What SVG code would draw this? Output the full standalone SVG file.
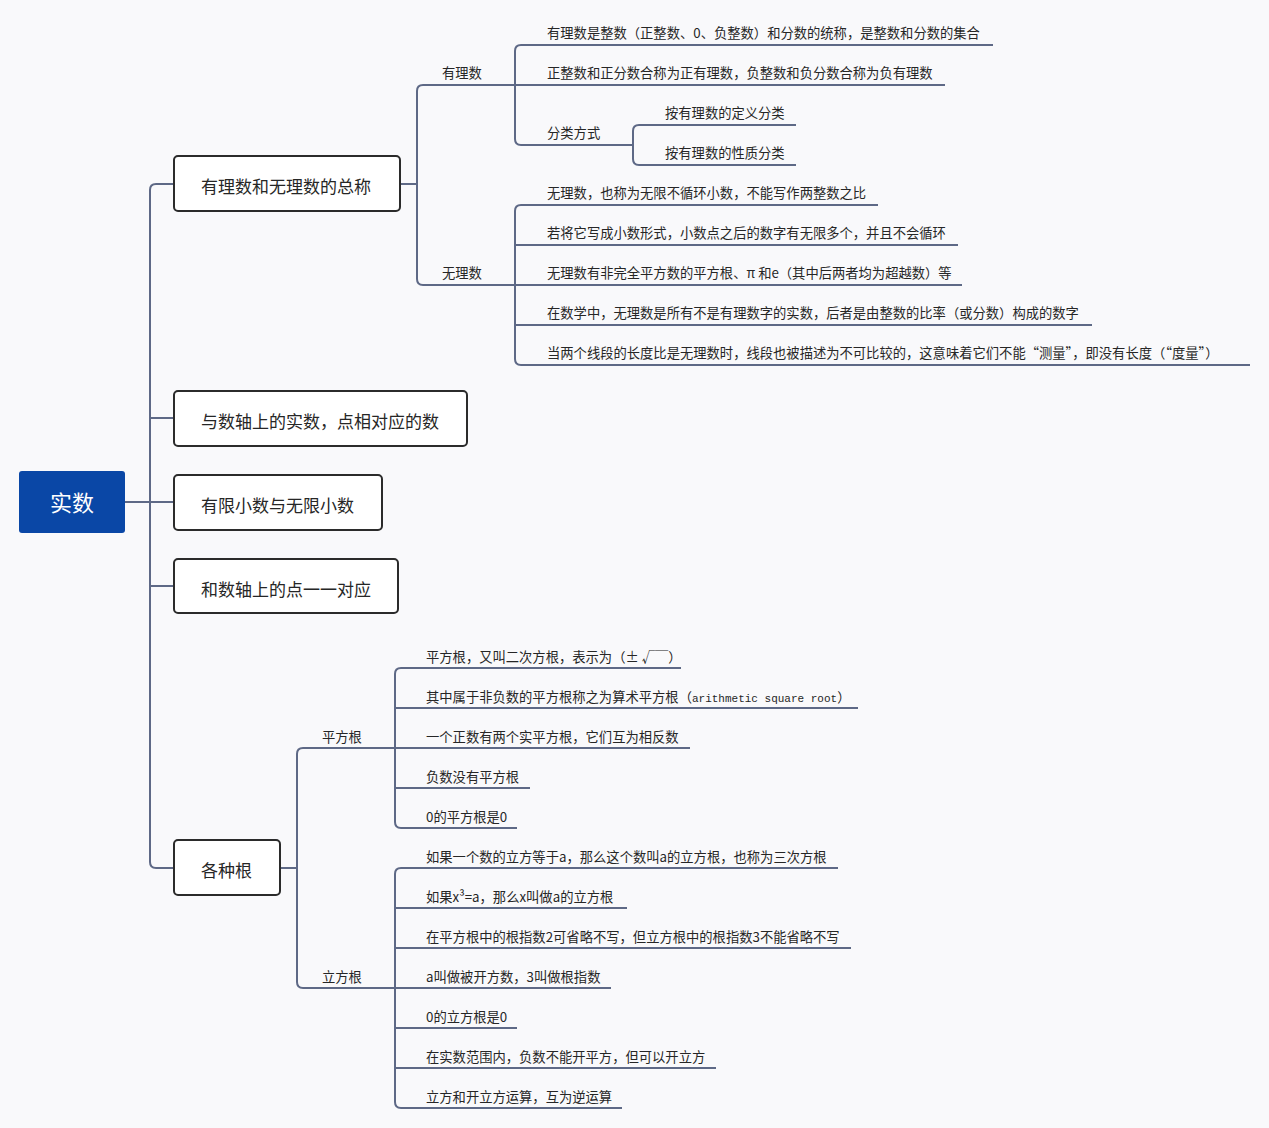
<svg xmlns="http://www.w3.org/2000/svg" width="1269" height="1128" viewBox="0 0 1269 1128">
<style>
text{font-family:"Noto Sans CJK SC","Noto Sans",sans-serif;fill:#262626}
.t{font-size:13.3px}
.b{font-size:17px}
.box{fill:#ffffff;stroke:#2b2b2b;stroke-width:2}
.c{fill:none;stroke:#5e6986;stroke-width:2;stroke-linecap:butt}
.m{font-family:"Liberation Mono",monospace;font-size:11px}
</style>
<rect width="1269" height="1128" fill="#f9f9fb"/>
<g id="connectors">
<path class="c" d="M125,502 H174"/>
<path class="c" d="M174,184 H156 Q150,184 150,190 V862 Q150,868 156,868 H174"/>
<path class="c" d="M150,418 H174 M150,586 H174"/>
<path class="c" d="M400,184 H417"/>
<path class="c" d="M515,85 H423 Q417,85 417,91 V279 Q417,285 423,285 H515"/>
<path class="c" d="M993,45 H521 Q515,45 515,51 V139 Q515,145 521,145 H633"/>
<path class="c" d="M515,85 H945"/>
<path class="c" d="M796,125 H639 Q633,125 633,131 V159 Q633,165 639,165 H796"/>
<path class="c" d="M878,205 H521 Q515,205 515,211 V359 Q515,365 521,365 H1250"/>
<path class="c" d="M515,245 H958 M515,285 H962 M515,325 H1092"/>
<path class="c" d="M280,868 H297"/>
<path class="c" d="M395,748 H303 Q297,748 297,754 V982 Q297,988 303,988 H395"/>
<path class="c" d="M681,668 H401 Q395,668 395,674 V822 Q395,828 401,828 H517"/>
<path class="c" d="M395,708 H858 M395,748 H690 M395,788 H530"/>
<path class="c" d="M838,868 H401 Q395,868 395,874 V1102 Q395,1108 401,1108 H622"/>
<path class="c" d="M395,908 H627 M395,948 H851 M395,988 H611 M395,1028 H517 M395,1068 H716"/>
</g>
<g id="root">
<rect x="19" y="471" width="106" height="62" rx="3" fill="#0a47a6"/>
<text x="72" y="511" text-anchor="middle" style="font-size:22px;fill:#ffffff">实数</text>
</g>
<g id="n1">
<rect class="box" x="174" y="156" width="226" height="55" rx="4"/>
<text class="b" x="201" y="193">有理数和无理数的总称</text>
</g>
<g id="n2">
<rect class="box" x="174" y="391" width="293" height="55" rx="4"/>
<text class="b" x="201" y="428">与数轴上的实数，点相对应的数</text>
</g>
<g id="n3">
<rect class="box" x="174" y="475" width="208" height="55" rx="4"/>
<text class="b" x="201" y="512">有限小数与无限小数</text>
</g>
<g id="n4">
<rect class="box" x="174" y="559" width="224" height="54" rx="4"/>
<text class="b" x="201" y="596">和数轴上的点一一对应</text>
</g>
<g id="n5">
<rect class="box" x="174" y="840" width="106" height="55" rx="4"/>
<text class="b" x="201" y="877">各种根</text>
</g>
<g id="rational"><text class="t" x="442" y="78">有理数</text></g>
<g id="r1"><text class="t" x="547" y="38">有理数是整数（正整数、0、负整数）和分数的统称，是整数和分数的集合</text></g>
<g id="r2"><text class="t" x="547" y="78">正整数和正分数合称为正有理数，负整数和负分数合称为负有理数</text></g>
<g id="r3"><text class="t" x="547" y="138">分类方式</text></g>
<g id="r3a"><text class="t" x="665" y="118">按有理数的定义分类</text></g>
<g id="r3b"><text class="t" x="665" y="158">按有理数的性质分类</text></g>
<g id="irrational"><text class="t" x="442" y="278">无理数</text></g>
<g id="i1"><text class="t" x="547" y="198">无理数，也称为无限不循环小数，不能写作两整数之比</text></g>
<g id="i2"><text class="t" x="547" y="238">若将它写成小数形式，小数点之后的数字有无限多个，并且不会循环</text></g>
<g id="i3"><text class="t" x="547" y="278">无理数有非完全平方数的平方根、π 和e（其中后两者均为超越数）等</text></g>
<g id="i4"><text class="t" x="547" y="318">在数学中，无理数是所有不是有理数字的实数，后者是由整数的比率（或分数）构成的数字</text></g>
<g id="i5"><text class="t" x="547" y="358">当两个线段的长度比是无理数时，线段也被描述为不可比较的，这意味着它们不能“测量”，即没有长度（“度量”）</text></g>
<g id="sqrt"><text class="t" x="322" y="742">平方根</text></g>
<g id="s1"><text class="t" x="426" y="662">平方根，又叫二次方根，表示为（± √￣）</text></g>
<g id="s2"><text class="t" x="426" y="702">其中属于非负数的平方根称之为算术平方根（<tspan class="m">arithmetic square root</tspan>）</text></g>
<g id="s3"><text class="t" x="426" y="742">一个正数有两个实平方根，它们互为相反数</text></g>
<g id="s4"><text class="t" x="426" y="782">负数没有平方根</text></g>
<g id="s5"><text class="t" x="426" y="822">0的平方根是0</text></g>
<g id="cbrt"><text class="t" x="322" y="982">立方根</text></g>
<g id="c1"><text class="t" x="426" y="862">如果一个数的立方等于a，那么这个数叫a的立方根，也称为三次方根</text></g>
<g id="c2"><text class="t" x="426" y="902">如果x³=a，那么x叫做a的立方根</text></g>
<g id="c3"><text class="t" x="426" y="942">在平方根中的根指数2可省略不写，但立方根中的根指数3不能省略不写</text></g>
<g id="c4"><text class="t" x="426" y="982">a叫做被开方数，3叫做根指数</text></g>
<g id="c5"><text class="t" x="426" y="1022">0的立方根是0</text></g>
<g id="c6"><text class="t" x="426" y="1062">在实数范围内，负数不能开平方，但可以开立方</text></g>
<g id="c7"><text class="t" x="426" y="1102">立方和开立方运算，互为逆运算</text></g>
</svg>
